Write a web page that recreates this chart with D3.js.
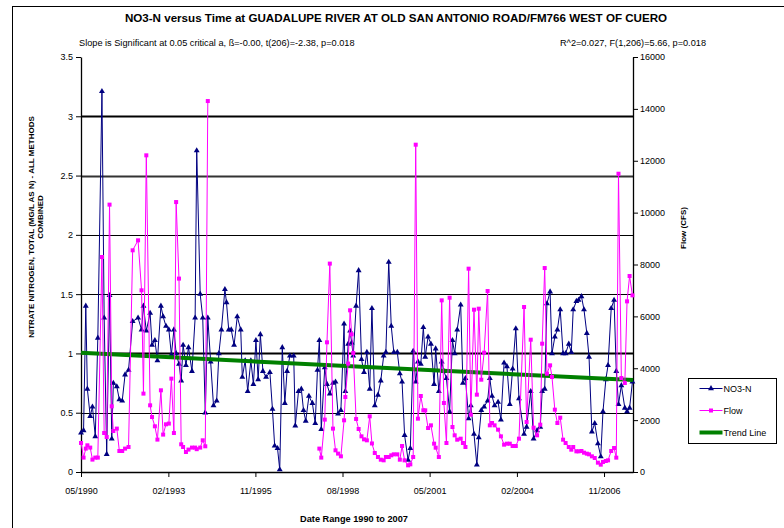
<!DOCTYPE html>
<html>
<head>
<meta charset="utf-8">
<script src="https://cdn.jsdelivr.net/npm/d3@7"></script>
<style>
  body { margin: 0; background: #fff; }
  text { font-family: "Liberation Sans", Arial, sans-serif; fill: #000; }
</style>
</head>
<body>
<div id="chart"></div>
<script>
// sample dates as decimal years
var sampleYears = [
  1990.33,1990.41,1990.48,1990.53,1990.62,1990.69,1990.78,1990.86,1990.99,1991.06,
  1991.14,1991.23,1991.30,1991.35,1991.46,1991.54,1991.63,1991.72,1991.83,1991.96,
  1992.13,1992.24,1992.30,1992.39,1992.51,1992.57,1992.66,1992.74,1992.85,1992.92,
  1993.01,1993.10,1993.18,1993.26,1993.33,1993.42,1993.49,1993.55,1993.64,1993.72,
  1993.83,1993.93,1993.98,1994.09,1994.17,1994.25,1994.33,1994.42,1994.51,1994.61,
  1994.68,1994.76,1994.87,1994.92,1994.99,1995.07,1995.16,1995.26,1995.37,1995.42,
  1995.51,1995.59,1995.69,1995.77,1995.85,1995.92,1995.99,1996.07,1996.17,1996.29,
  1996.37,1996.44,1996.53,1996.60,1996.68,1996.76,1996.83,1996.92,1997.04,1997.09,
  1997.19,1997.28,1997.35,1997.42,1997.52,1997.63,1997.72,1997.79,1997.85,1997.91,
  1998.02,1998.09,1998.18,1998.28,1998.36,1998.44,1998.53,1998.63,1998.67,1998.76,
  1998.82,1998.87,1998.92,1999.01,1999.09,1999.18,1999.26,1999.35,1999.44,1999.51,
  1999.60,1999.70,1999.79,1999.88,1999.95,2000.04,2000.12,2000.20,2000.31,2000.39,
  2000.46,2000.54,2000.65,2000.72,2000.81,2000.89,2000.96,2001.05,2001.13,2001.19,
  2001.28,2001.37,2001.47,2001.52,2001.62,2001.71,2001.78,2001.86,2001.96,2002.05,
  2002.12,2002.20,2002.31,2002.38,2002.46,2002.56,2002.63,2002.73,2002.82,2002.88,
  2002.96,2003.05,2003.16,2003.23,2003.30,2003.38,2003.49,2003.58,2003.68,2003.77,
  2003.86,2003.95,2004.05,2004.15,2004.31,2004.39,2004.52,2004.61,2004.72,2004.82,
  2004.88,2004.96,2005.03,2005.13,2005.19,2005.28,2005.36,2005.45,2005.54,2005.62,
  2005.72,2005.80,2005.86,2005.96,2006.03,2006.12,2006.20,2006.29,2006.36,2006.45,
  2006.54,2006.64,2006.73,2006.80,2006.89,2006.96,2007.06,2007.15,2007.22,2007.29,
  2007.38,2007.49,2007.56,2007.64,2007.73
];

// NO3-N, mg/L as N
var no3 = [
  0.33,0.35,1.40,0.70,0.47,0.55,0.30,1.13,3.21,1.30,
  0.15,1.49,0.28,0.75,0.72,0.61,0.60,0.82,0.86,1.27,
  1.30,1.20,1.40,1.19,1.34,1.07,1.11,0.94,1.40,1.31,
  1.23,1.20,0.99,1.20,1.00,0.91,0.77,1.07,0.90,1.05,
  0.85,1.30,2.71,1.50,1.30,0.50,1.30,0.93,0.56,0.60,
  1.00,1.20,1.54,1.43,1.20,1.20,1.07,1.31,1.20,0.80,
  0.94,0.68,0.94,0.74,1.11,0.78,1.16,0.85,0.80,0.84,
  0.53,0.22,0.20,0.02,1.05,0.58,0.85,0.98,0.98,0.39,
  0.68,0.70,0.52,0.43,0.64,0.58,0.41,0.86,1.11,0.36,
  0.88,0.74,0.66,0.75,0.76,0.49,0.52,1.25,0.68,1.08,
  1.19,1.09,0.98,1.40,1.70,0.95,0.84,1.01,0.70,1.38,
  0.56,0.65,0.77,0.98,1.01,1.77,1.23,1.01,1.01,0.83,
  0.76,0.31,0.10,0.20,1.02,0.76,0.93,0.91,1.22,0.97,
  1.14,1.08,0.74,1.04,0.68,0.93,0.85,0.79,0.51,1.11,
  1.00,1.20,1.41,0.75,0.79,0.45,0.56,0.32,0.06,0.29,
  0.52,0.55,0.60,0.79,0.64,0.56,0.59,0.44,0.92,0.89,
  0.57,0.87,1.21,0.62,0.32,0.38,0.68,0.28,0.35,0.38,
  0.68,0.70,1.42,1.52,1.00,1.14,1.20,1.37,1.00,1.00,
  1.08,1.01,1.37,1.44,1.45,1.48,1.37,1.17,0.97,0.34,
  0.41,0.24,0.13,0.51,0.78,0.90,1.38,1.45,0.85,0.57,
  0.73,0.54,0.51,0.54,0.76
];

// Flow, CFS (null = no flow recorded)
var flow = [
  1118,555,902,1029,941,478,555,555,8289,1503,
  1349,10308,2533,1580,1673,810,810,902,964,8547,
  8932,7005,3022,12209,2571,2120,1762,1249,3150,1442,
  1839,1866,3600,1503,10408,7456,1068,964,771,864,
  941,941,880,941,1222,991,14302,null,null,null,
  null,null,null,null,null,null,null,null,null,null,
  null,null,null,null,null,null,null,null,null,null,
  null,null,null,null,null,null,null,null,null,null,
  null,null,null,null,null,null,null,null,902,555,
  2020,5000,8034,1673,836,709,605,1993,2891,4179,
  6234,5307,4587,2043,1658,1375,1259,1221,2146,1100,
  732,578,475,450,578,578,643,681,681,475,
  1002,450,257,296,578,12619,2056,2930,2377,2377,
  1696,1799,1092,938,578,6618,2660,1118,6720,1735,
  1414,1246,1285,1118,964,7839,2210,6258,2981,6297,
  3559,4600,6977,1799,1889,1799,1632,1375,1054,1092,
  1092,1002,1002,1285,6361,1928,5101,1709,1414,1825,
  4947,7864,3791,4112,3662,2403,1889,2095,1246,1118,
  964,861,964,797,797,810,745,707,681,604,
  540,360,283,386,424,450,810,925,553,11500,
  3624,3431,6579,7556,6810
];

var dateRange = ["05/1990", "10/2007"];
var xTickLabels = ["05/1990", "02/1993", "11/1995", "08/1998", "05/2001", "02/2004", "11/2006"];
var no3Ticks = [0, 0.5, 1, 1.5, 2, 2.5, 3, 3.5];
var flowTicks = [0, 2000, 4000, 6000, 8000, 10000, 12000, 14000, 16000];
var trendEnds = [1.005, 0.775];   // fitted NO3 at start and end of the date range
var seriesNames = ["NO3-N", "Flow", "Trend Line"];

var titleText = "NO3-N versus Time at GUADALUPE RIVER AT OLD SAN ANTONIO ROAD/FM766 WEST OF CUERO";
var statLeft = "Slope is Significant at 0.05 critical a, \u00DF=-0.00, t(206)=-2.38, p=0.018";
var statRight = "R^2=0.027, F(1,206)=5.66, p=0.018";

var width = 784, height = 528;
var plot = {left: 81, right: 633, top: 57, bottom: 472};
var navy = "#000080", magenta = "#ff00ff", green = "#008000";

function yearToDate(y) {
  var yr = Math.floor(y);
  var a = new Date(yr, 0, 1), b = new Date(yr + 1, 0, 1);
  return new Date(+a + (y - yr) * (b - a));
}
var parseMY = d3.timeParse("%m/%Y");

var data = sampleYears.map(function(y, i) {
  return {date: yearToDate(y), v: no3[i], f: flow[i]};
});

var x = d3.scaleTime().domain(dateRange.map(parseMY)).range([plot.left, plot.right]);
var yL = d3.scaleLinear().domain([0, 3.5]).range([plot.bottom, plot.top]);
var yR = d3.scaleLinear().domain([0, 16000]).range([plot.bottom, plot.top]);

var svg = d3.select("#chart").append("svg")
  .attr("width", width).attr("height", height);

svg.append("rect").attr("width", width).attr("height", height).attr("fill", "#fff");

// chart area border (runs off the page on the right and bottom)
svg.append("rect")
  .attr("x", 12.5).attr("y", 6.5).attr("width", 900).attr("height", 700)
  .attr("fill", "none").attr("stroke", "#000").attr("stroke-width", 1);

// gridlines
svg.append("g").selectAll("line")
  .data(no3Ticks.filter(function(d) { return d > 0 && d < 3.5; }))
  .enter().append("line")
  .attr("x1", plot.left).attr("x2", plot.right)
  .attr("y1", function(d) { return Math.round(yL(d)) + 0.5; })
  .attr("y2", function(d) { return Math.round(yL(d)) + 0.5; })
  .attr("stroke", function(d) { return d === 2.5 ? "#333" : "#000"; })
  .attr("stroke-width", function(d) { return (d === 1 || d === 3 || d === 2.5) ? 2 : 1; });

// axes
var gL = svg.append("g").attr("transform", "translate(" + plot.left + ",0)")
  .call(d3.axisLeft(yL).tickValues(no3Ticks).tickFormat(d3.format("")).tickSize(5).tickSizeOuter(0).tickPadding(3));
var gR = svg.append("g").attr("transform", "translate(" + plot.right + ",0)")
  .call(d3.axisRight(yR).tickValues(flowTicks).tickFormat(d3.format("d")).tickSize(5).tickSizeOuter(0).tickPadding(2));
var gB = svg.append("g").attr("transform", "translate(0," + plot.bottom + ")")
  .call(d3.axisBottom(x).tickValues(xTickLabels.map(parseMY)).tickFormat(d3.timeFormat("%m/%Y")).tickSize(5).tickSizeOuter(0).tickPadding(11));

[gL, gR, gB].forEach(function(g) {
  g.selectAll("text").style("font-size", "9px").style("font-family", "'Liberation Sans', Arial, sans-serif");
  g.select(".domain").attr("stroke", "#000").attr("stroke-width", 1.3);
});

// NO3-N series
svg.append("path").datum(data)
  .attr("fill", "none").attr("stroke", navy).attr("stroke-width", 1)
  .attr("d", d3.line().x(function(d) { return x(d.date); }).y(function(d) { return yL(d.v); }));

var tri = d3.symbol().type(d3.symbolTriangle).size(15);
svg.append("g").selectAll("path")
  .data(data).enter().append("path")
  .attr("d", tri)
  .attr("fill", navy)
  .attr("transform", function(d) { return "translate(" + x(d.date) + "," + yL(d.v) + ")"; });

// trend line
var ends = x.domain();
svg.append("line")
  .attr("x1", x(ends[0])).attr("y1", yL(trendEnds[0]))
  .attr("x2", x(ends[1])).attr("y2", yL(trendEnds[1]))
  .attr("stroke", green).attr("stroke-width", 4);

// Flow series (secondary axis, drawn on top)
var flowPts = data.filter(function(d) { return d.f != null; });
svg.append("path").datum(data)
  .attr("fill", "none").attr("stroke", magenta).attr("stroke-width", 1)
  .attr("d", d3.line().defined(function(d) { return d.f != null; })
    .x(function(d) { return x(d.date); }).y(function(d) { return yR(d.f); }));

svg.append("g").selectAll("rect")
  .data(flowPts).enter().append("rect")
  .attr("x", function(d) { return x(d.date) - 2; })
  .attr("y", function(d) { return yR(d.f) - 2; })
  .attr("width", 4).attr("height", 4)
  .attr("fill", magenta);

// titles
svg.append("text").attr("x", 396).attr("y", 22).attr("text-anchor", "middle")
  .style("font-size", "11.6px").style("font-weight", "bold").text(titleText);
svg.append("text").attr("x", 79).attr("y", 46)
  .style("font-size", "9.2px").text(statLeft);
svg.append("text").attr("x", 706).attr("y", 46).attr("text-anchor", "end")
  .style("font-size", "9.2px").text(statRight);

svg.append("text").attr("transform", "translate(34,227) rotate(-90)").attr("text-anchor", "middle")
  .style("font-size", "8px").style("font-weight", "bold")
  .text("NITRATE NITROGEN, TOTAL (MG/L AS N) - ALL METHODS");
svg.append("text").attr("transform", "translate(42.5,217) rotate(-90)").attr("text-anchor", "middle")
  .style("font-size", "8px").style("font-weight", "bold")
  .text("COMBINED");
svg.append("text").attr("transform", "translate(685.5,228) rotate(-90)").attr("text-anchor", "middle")
  .style("font-size", "8px").style("font-weight", "bold")
  .text("Flow (CFS)");
svg.append("text").attr("x", 354).attr("y", 522).attr("text-anchor", "middle")
  .style("font-size", "9.2px").style("font-weight", "bold")
  .text("Date Range 1990 to 2007");

// legend
var legend = svg.append("g").attr("transform", "translate(688.5,378.5)");
legend.append("rect").attr("width", 88).attr("height", 65)
  .attr("fill", "#fff").attr("stroke", "#000").attr("stroke-width", 1);

var item = legend.selectAll("g.item")
  .data(seriesNames).enter().append("g")
  .attr("class", "item")
  .attr("transform", function(d, i) { return "translate(0," + (10 + i * 22) + ")"; });
item.append("line")
  .attr("x1", 11).attr("x2", 34).attr("y1", 0).attr("y2", 0)
  .attr("stroke", function(d, i) { return [navy, magenta, green][i]; })
  .attr("stroke-width", function(d, i) { return i === 2 ? 4 : 1; });
item.filter(function(d, i) { return i === 0; }).append("path")
  .attr("d", tri).attr("fill", navy).attr("transform", "translate(22.5,0)");
item.filter(function(d, i) { return i === 1; }).append("rect")
  .attr("x", 20.5).attr("y", -2).attr("width", 4).attr("height", 4).attr("fill", magenta);
item.append("text")
  .attr("x", 35).attr("y", 0).attr("dy", "0.35em")
  .style("font-size", "9px")
  .text(function(d) { return d; });
</script>
</body>
</html>
